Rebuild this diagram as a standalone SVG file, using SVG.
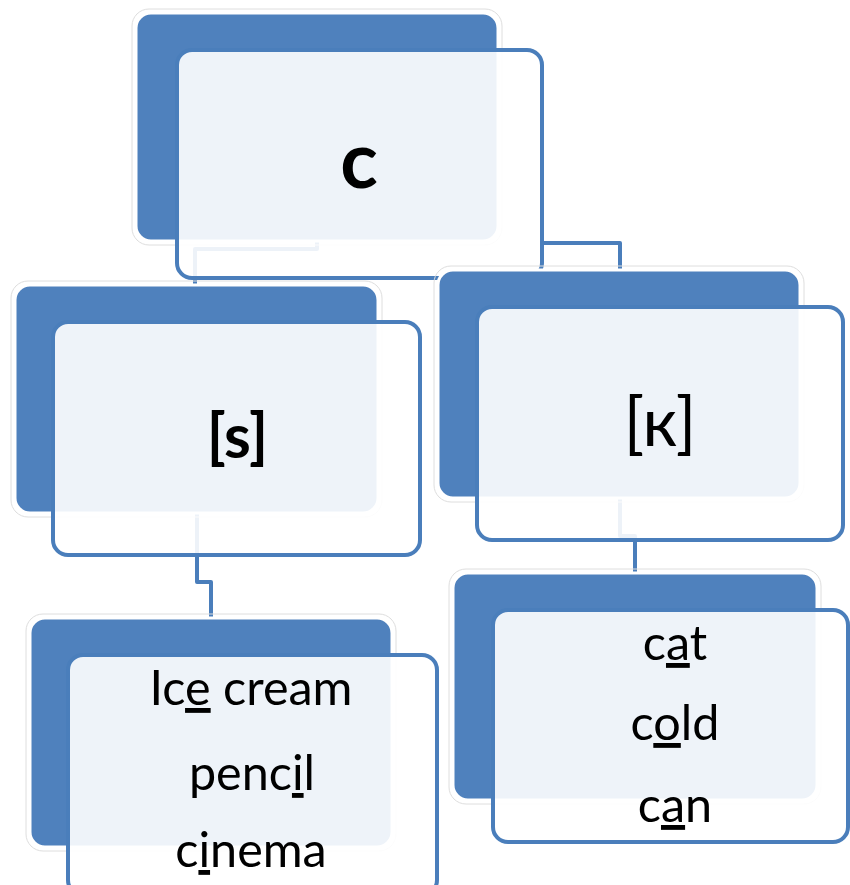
<svg xmlns="http://www.w3.org/2000/svg" width="850" height="885" viewBox="0 0 850 885">
<style>
.halo{fill:none;stroke:#dedede;stroke-width:1}
.back{fill:#4f81bd;stroke:#ffffff;stroke-width:3}
.front{fill:#ffffff;fill-opacity:0.9;stroke:#4a7ebb;stroke-width:4}
.conn{fill:none;stroke:#4a7ebb;stroke-width:4;stroke-linejoin:round}
.t{font-family:Lato,"Open Sans","Liberation Sans",sans-serif;fill:#000;text-anchor:middle}
.w{font-size:48.5px}
.u{text-decoration:underline}
</style>
<rect width="850" height="885" fill="#ffffff"/>
<g id="connectors">
<path class="conn" d="M317,241 V249 H195 V285"/>
<path class="conn" d="M541,243 H620 V270"/>
<path class="conn" d="M197,513 V582 H211 V618"/>
<path class="conn" d="M620,498 V536 H635 V573"/>
</g>
<g id="node-c">
<rect class="halo" x="132" y="9" width="370" height="236" rx="17"/>
<rect class="back" x="136" y="13" width="362" height="228" rx="15"/>
<rect class="front" x="177" y="50" width="365" height="228" rx="15"/>
<text class="t" x="359" y="188" font-size="78" font-weight="bold">c</text>
</g>
<g id="node-s">
<rect class="halo" x="11" y="281" width="371" height="236" rx="17"/>
<rect class="back" x="15" y="285" width="363" height="228" rx="15"/>
<rect class="front" x="53" y="322" width="367" height="233" rx="15"/>
<text class="t" x="237.5" y="458" font-size="61" font-weight="bold">[s]</text>
</g>
<g id="node-k">
<rect class="halo" x="434" y="266" width="370" height="236" rx="17"/>
<rect class="back" x="438" y="270" width="362" height="228" rx="15"/>
<rect class="front" x="477" y="307" width="366" height="233" rx="15"/>
<text class="t" x="660" y="446" font-size="67">[к]</text>
</g>
<g id="node-s-words">
<rect class="halo" x="26" y="614" width="370" height="237" rx="17"/>
<rect class="back" x="30" y="618" width="362" height="229" rx="15"/>
<rect class="front" x="68" y="655" width="369" height="240" rx="15"/>
<text class="t w" x="251" y="705">Ic<tspan class="u">e</tspan> cream</text>
<text class="t w" x="252" y="790">penc<tspan class="u">i</tspan>l</text>
<text class="t w" x="251" y="867">c<tspan class="u">i</tspan>nema</text>
</g>
<g id="node-k-words">
<rect class="halo" x="449" y="569" width="372" height="235" rx="17"/>
<rect class="back" x="453" y="573" width="364" height="227" rx="15"/>
<rect class="front" x="493" y="610" width="355" height="232" rx="15"/>
<text class="t w" x="675" y="660">c<tspan class="u">a</tspan>t</text>
<text class="t w" x="675" y="740">c<tspan class="u">o</tspan>ld</text>
<text class="t w" x="675" y="822">c<tspan class="u">a</tspan>n</text>
</g>
</svg>
